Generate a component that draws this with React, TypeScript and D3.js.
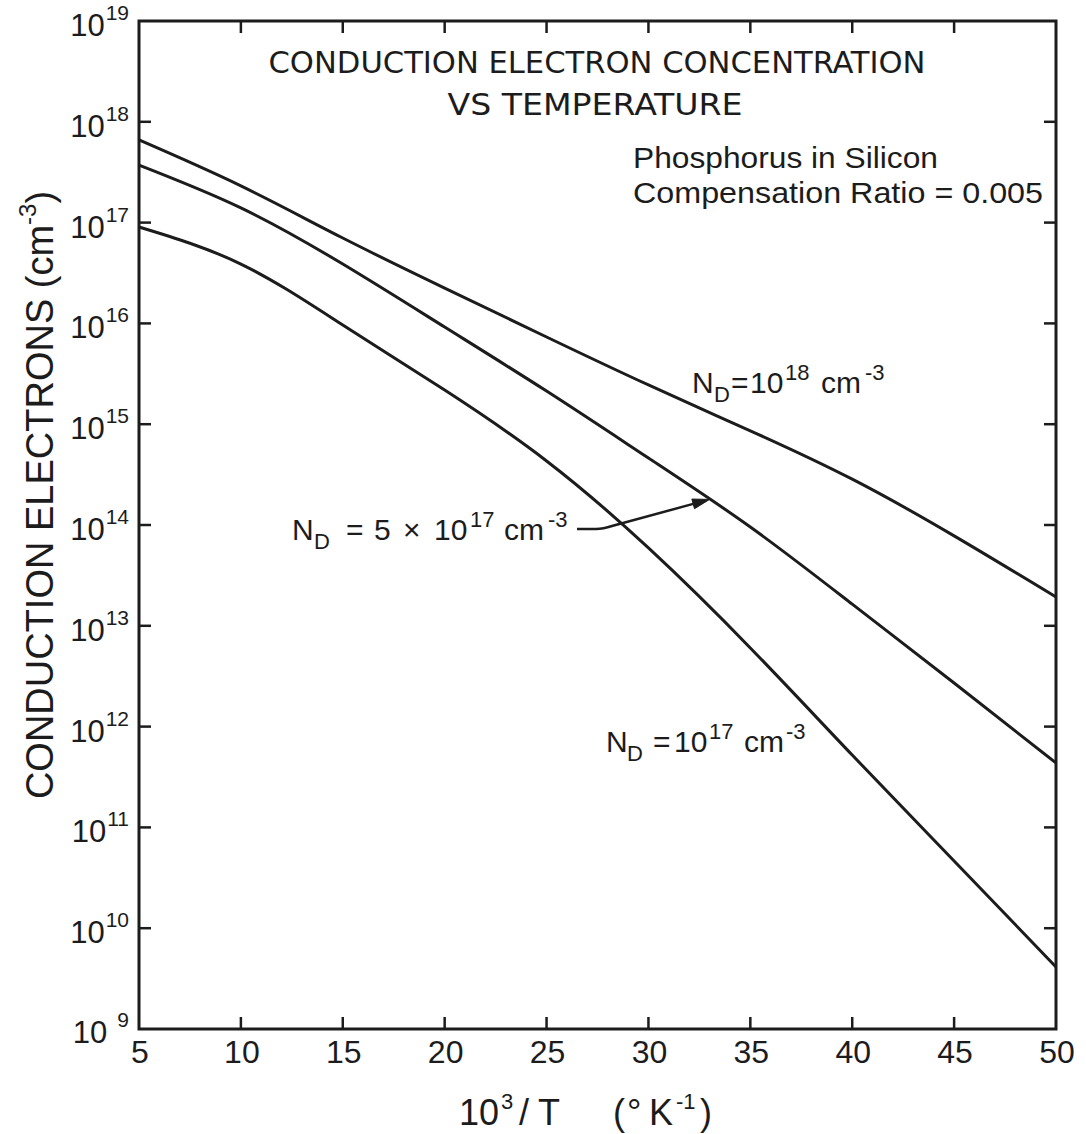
import React from "react";
import * as d3 from "d3";

// Inverse temperature, 10^3/T (K^-1)
const invT = [5, 10, 15, 20, 25, 30, 35, 40, 45, 50];

// Conduction electron concentration (cm^-3) for each donor concentration
const nD1e18 = [6.6e17, 2.31e17, 7.03e16, 2.24e16, 7.33e15, 2.45e15, 8.6e14, 2.85e14, 7.8e13, 1.93e13];
const nD5e17 = [3.72e17, 1.4e17, 3.88e16, 9.2e15, 2.13e15, 4.62e14, 9.55e13, 1.64e13, 2.71e12, 4.36e11];
const nD1e17 = [9.04e16, 3.88e16, 9.64e15, 2.18e15, 4.32e14, 5.92e13, 6.03e12, 5.22e11, 4.65e10, 4.12e9];

const xTicks = [5, 10, 15, 20, 25, 30, 35, 40, 45, 50];
const yExponents = [9, 10, 11, 12, 13, 14, 15, 16, 17, 18, 19];

// Where the 5e17 arrow lands on its curve
const arrowAt = 33;

const W = 1086;
const H = 1134;
const INK = "#1c1c1c";
const FONT = "'Liberation Sans', Arial, sans-serif";
const NARROW = "'Liberation Sans Narrow', 'DejaVu Sans Condensed', 'Liberation Sans', sans-serif";

type Part = { t: string; x: number; sub?: boolean; sup?: boolean };

// Text with sub/superscripts; every piece is placed at its own x
function Rich({ y, parts, size = 30, small = 22 }: { y: number; parts: Part[]; size?: number; small?: number }) {
  return (
    <text fontFamily={FONT} fontSize={size} fill={INK}>
      {parts.map((p, i) => {
        const off = p.sub ? size * 0.3 : p.sup ? -size * 0.45 : 0;
        return (
          <tspan key={i} x={p.x} y={y + off} fontSize={p.sub || p.sup ? small : size}>
            {p.t}
          </tspan>
        );
      })}
    </text>
  );
}

export default function App() {
  const x = d3.scaleLinear().domain([5, 50]).range([139, 1056]);
  const y = d3.scaleLog().domain([1e9, 1e19]).range([1029, 21]);

  const line = d3
    .line<[number, number]>()
    .x((d) => x(d[0]))
    .y((d) => y(d[1]))
    .curve(d3.curveNatural);

  const series = [nD1e18, nD5e17, nD1e17].map((vals) => invT.map((t, i) => [t, vals[i]] as [number, number]));

  // arrow tip: interpolate the 5e17 curve in log space
  const j = d3.bisectLeft(invT, arrowAt);
  const f = (arrowAt - invT[j - 1]) / (invT[j] - invT[j - 1]);
  const logN = Math.log10(nD5e17[j - 1]) * (1 - f) + Math.log10(nD5e17[j]) * f;
  const tipX = x(arrowAt);
  const tipY = y(Math.pow(10, logN));
  const startX = 577;
  const startY = 529;
  const ang = Math.atan2(tipY - 526, tipX - 612);
  const ah = 17;
  const aw = 5;
  const bx = tipX - ah * Math.cos(ang);
  const by = tipY - ah * Math.sin(ang);
  const head = `M${tipX},${tipY} L${bx + aw * Math.sin(ang)},${by - aw * Math.cos(ang)} L${bx - aw * Math.sin(ang)},${by + aw * Math.cos(ang)} Z`;

  const [x0, x1] = x.range();
  const [yb, yt] = y.range();
  const tickLen = 12;

  return (
    <svg width={W} height={H} style={{ position: "absolute", left: 0, top: 0, background: "#fff" }}>
      <rect width={W} height={H} fill="#fff" />

      {/* frame */}
      <rect x={x0} y={yt} width={x1 - x0} height={yb - yt} fill="none" stroke={INK} strokeWidth={3} />

      {/* x ticks, bottom and top, pointing inward */}
      {xTicks.slice(1, -1).map((t) => (
        <g key={"xt" + t}>
          <line x1={x(t)} x2={x(t)} y1={yb} y2={yb - tickLen} stroke={INK} strokeWidth={2.5} />
          <line x1={x(t)} x2={x(t)} y1={yt} y2={yt + tickLen} stroke={INK} strokeWidth={2.5} />
        </g>
      ))}
      {/* y ticks, left and right */}
      {yExponents.slice(1, -1).map((e) => (
        <g key={"yt" + e}>
          <line x1={x0} x2={x0 + tickLen} y1={y(Math.pow(10, e))} y2={y(Math.pow(10, e))} stroke={INK} strokeWidth={2.5} />
          <line x1={x1} x2={x1 - tickLen} y1={y(Math.pow(10, e))} y2={y(Math.pow(10, e))} stroke={INK} strokeWidth={2.5} />
        </g>
      ))}

      {/* x tick labels */}
      {xTicks.map((t) => (
        <text key={"xl" + t} x={x(t) + 1} y={1063} textAnchor="middle" fontFamily={FONT} fontSize={32} fill={INK}>
          {t}
        </text>
      ))}

      {/* y tick labels */}
      {yExponents.map((e) => {
        const py = y(Math.pow(10, e));
        return (
          <text key={"yl" + e} x={129} y={py + (e === 9 ? 14 : 15)} textAnchor="end" fontFamily={FONT} fontSize={31} fill={INK}>
            <tspan>10</tspan>
            <tspan dx={e === 9 ? 10 : 1} dy={-16} fontSize={21}>
              {e}
            </tspan>
          </text>
        );
      })}

      {/* curves */}
      {series.map((s, i) => (
        <path key={"c" + i} d={line(s) ?? ""} fill="none" stroke={INK} strokeWidth={3} strokeLinejoin="round" />
      ))}

      {/* title */}
      <text x={597} y={73} textAnchor="middle" fontFamily={NARROW} fontSize={30} fill={INK} textLength={657} lengthAdjust="spacingAndGlyphs">
        CONDUCTION ELECTRON CONCENTRATION
      </text>
      <text x={595} y={115} textAnchor="middle" fontFamily={NARROW} fontSize={30} fill={INK} textLength={295} lengthAdjust="spacingAndGlyphs">
        VS TEMPERATURE
      </text>

      <text x={633} y={168} fontFamily={FONT} fontSize={30} fill={INK} textLength={305} lengthAdjust="spacingAndGlyphs">
        Phosphorus in Silicon
      </text>
      <text x={633} y={203} fontFamily={FONT} fontSize={30} fill={INK} textLength={410} lengthAdjust="spacingAndGlyphs">
        Compensation Ratio = 0.005
      </text>

      {/* curve labels */}
      <Rich
        y={393}
        parts={[
          { t: "N", x: 692 },
          { t: "D", x: 714, sub: true },
          { t: "=", x: 731 },
          { t: "10", x: 750 },
          { t: "18", x: 785, sup: true },
          { t: "cm", x: 821 },
          { t: "-3", x: 865, sup: true },
        ]}
      />
      <Rich
        y={540}
        parts={[
          { t: "N", x: 292 },
          { t: "D", x: 314, sub: true },
          { t: "=", x: 346 },
          { t: "5", x: 374 },
          { t: "×", x: 403 },
          { t: "10", x: 434 },
          { t: "17", x: 470, sup: true },
          { t: "cm", x: 504 },
          { t: "-3", x: 548, sup: true },
        ]}
      />
      <Rich
        y={752}
        parts={[
          { t: "N", x: 606 },
          { t: "D", x: 627, sub: true },
          { t: "=", x: 653 },
          { t: "10", x: 674 },
          { t: "17", x: 709, sup: true },
          { t: "cm", x: 744 },
          { t: "-3", x: 786, sup: true },
        ]}
      />

      {/* arrow to the 5e17 curve */}
      <path
        d={`M${startX},${startY} L596,${startY} Q603,${startY} 612,526 L${bx},${by}`}
        fill="none"
        stroke={INK}
        strokeWidth={2.5}
      />
      <path d={head} fill={INK} stroke={INK} strokeWidth={1} strokeLinejoin="round" />

      {/* axis titles */}
      <Rich
        y={1125}
        size={36}
        small={22}
        parts={[
          { t: "10", x: 459 },
          { t: "3", x: 501, sup: true },
          { t: "/", x: 519 },
          { t: "T", x: 538 },
          { t: "(", x: 613 },
          { t: "°", x: 627 },
          { t: "K", x: 649 },
          { t: "-1", x: 676, sup: true },
          { t: ")", x: 700 },
        ]}
      />
      <g transform="translate(53,495) rotate(-90)">
        <text x={0} y={0} textAnchor="middle" fontFamily={FONT} fontSize={38} fill={INK}>
          <tspan>CONDUCTION ELECTRONS (cm</tspan>
          <tspan dy={-17} fontSize={24}>-3</tspan>
          <tspan dy={17}>)</tspan>
        </text>
      </g>
    </svg>
  );
}
